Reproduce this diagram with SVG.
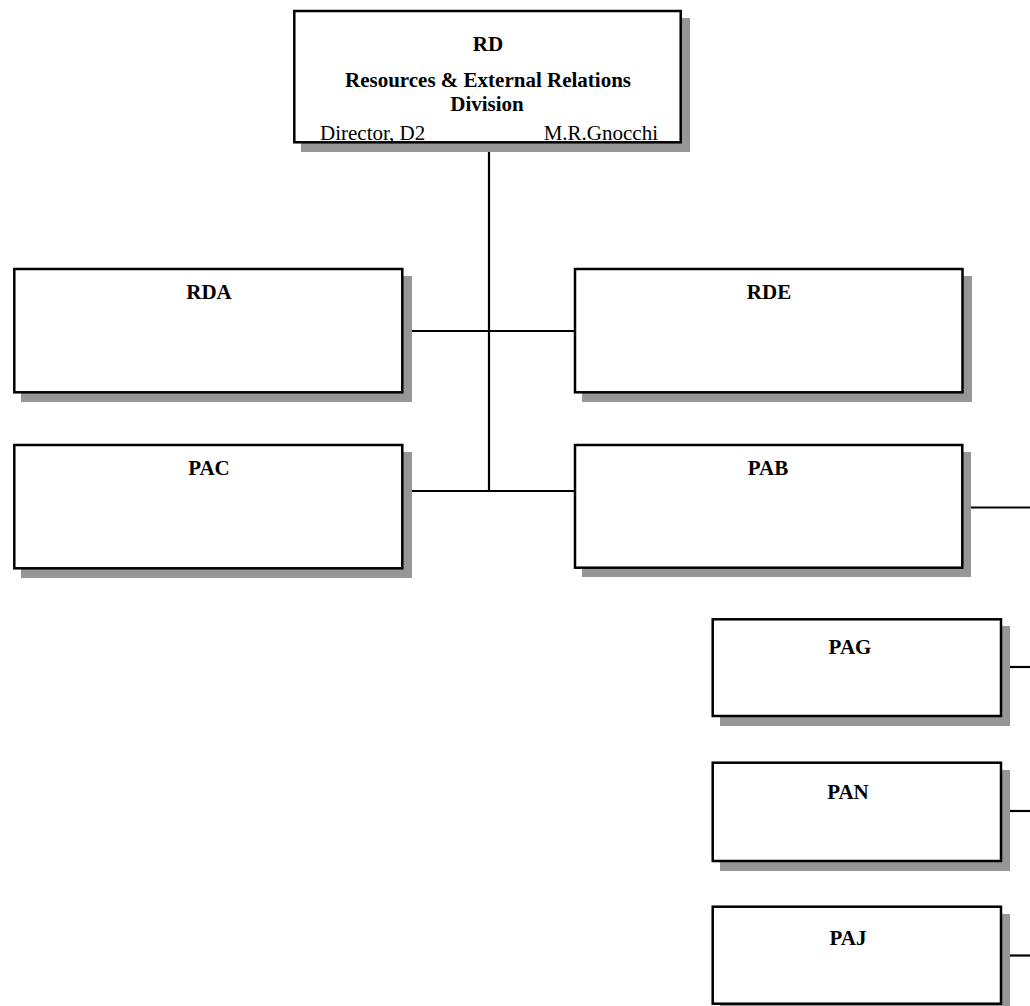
<svg xmlns="http://www.w3.org/2000/svg" width="1030" height="1006" viewBox="0 0 1030 1006">
<style>
.sh{fill:#969696;stroke:none}
.bx{fill:#fff;stroke:#000;stroke-width:2.5}
.ln{stroke:#000;stroke-width:2.2;fill:none}
.t{font-family:"Liberation Serif","Times New Roman",serif;font-size:21px;fill:#000}
.b{font-weight:bold}
</style>
<rect width="1030" height="1006" fill="#fff"/>
<g id="connectors">
<line class="ln" x1="489" y1="142" x2="489" y2="491"/>
<line class="ln" x1="411" y1="331" x2="575" y2="331"/>
<line class="ln" x1="411" y1="491" x2="575" y2="491"/>
<line class="ln" x1="971" y1="507.5" x2="1030" y2="507.5"/>
<line class="ln" x1="1010" y1="667" x2="1030" y2="667"/>
<line class="ln" x1="1010" y1="811" x2="1030" y2="811"/>
<line class="ln" x1="1010" y1="955.5" x2="1030" y2="955.5"/>
</g>
<g id="RD">
<rect class="sh" x="301" y="18" width="389" height="134"/>
<rect class="bx" x="294.3" y="11" width="386.4" height="131.3"/>
<text class="t b" x="488" y="50.5" text-anchor="middle">RD</text>
<text class="t b" x="488" y="86.5" text-anchor="middle">Resources &amp; External Relations</text>
<text class="t b" x="487" y="111" text-anchor="middle">Division</text>
<text class="t" x="320" y="139.5">Director, D2</text>
<text class="t" x="658" y="139.5" text-anchor="end">M.R.Gnocchi</text>
</g>
<g id="RDA">
<rect class="sh" x="21" y="276" width="391" height="126"/>
<rect class="bx" x="14.3" y="269" width="388" height="123.3"/>
<text class="t b" x="209" y="299" text-anchor="middle">RDA</text>
</g>
<g id="RDE">
<rect class="sh" x="582" y="276" width="390" height="126"/>
<rect class="bx" x="575" y="269" width="387.5" height="123.3"/>
<text class="t b" x="769" y="299" text-anchor="middle">RDE</text>
</g>
<g id="PAC">
<rect class="sh" x="21" y="452" width="391" height="126"/>
<rect class="bx" x="14.3" y="445" width="388" height="123.3"/>
<text class="t b" x="209" y="475" text-anchor="middle">PAC</text>
</g>
<g id="PAB">
<rect class="sh" x="582" y="452" width="389" height="125"/>
<rect class="bx" x="575" y="445" width="387.3" height="122.7"/>
<text class="t b" x="768" y="475" text-anchor="middle">PAB</text>
</g>
<g id="PAG">
<rect class="sh" x="720" y="626" width="290" height="100"/>
<rect class="bx" x="712.7" y="619.3" width="288.3" height="96.7"/>
<text class="t b" x="850" y="654" text-anchor="middle">PAG</text>
</g>
<g id="PAN">
<rect class="sh" x="720" y="770" width="290" height="101"/>
<rect class="bx" x="712.7" y="762.7" width="288.3" height="98.3"/>
<text class="t b" x="848" y="799" text-anchor="middle">PAN</text>
</g>
<g id="PAJ">
<rect class="sh" x="720" y="914" width="290" height="100"/>
<rect class="bx" x="712.7" y="906.7" width="288.3" height="97"/>
<text class="t b" x="848" y="945" text-anchor="middle">PAJ</text>
</g>
</svg>
